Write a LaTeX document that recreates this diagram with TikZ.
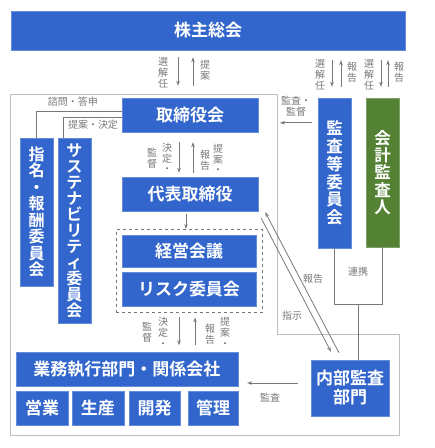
\documentclass[tikz,border=0pt]{standalone}
\usepackage{fontspec}
\setmainfont{Noto Sans CJK JP}[BoldFont={Noto Sans CJK JP Bold}]
\usetikzlibrary{arrows.meta,fit,calc}
\definecolor{boxblue}{RGB}{50,102,204}
\definecolor{boxgreen}{RGB}{84,130,53}
\definecolor{labgray}{RGB}{120,120,120}
\definecolor{linegray}{RGB}{120,120,120}
\definecolor{framegray}{RGB}{190,190,190}
\tikzset{
    blk/.style={fill=boxblue, draw=boxblue!75!white, line width=0.4pt, text=white,
        inner sep=0pt, align=center, font=\bfseries\fontsize{17}{18}\selectfont},
    vblk/.style={blk, minimum width=33pt},
    lab/.style={text=labgray, inner sep=0pt, align=center, font=\fontsize{10}{10.8}\selectfont},
    conn/.style={linegray, line width=0.8pt},
    arr/.style={conn, -{Stealth[length=5pt,width=3.5pt]}},
}

\begin{document}
\begin{tikzpicture}[x=1pt,y=-1pt]
                \useasboundingbox (0,0) rectangle (435,448);

                \node[blk, minimum width=394pt, minimum height=39pt] (kabunushi) at (208,30.5) {株主総会};
                \node[blk, minimum width=136pt, minimum height=34pt] (torishimari) at (190,115) {取締役会};
                \node[vblk, minimum height=148pt, font=\bfseries\fontsize{16}{16.5}\selectfont] (shimei) at (36.5,212) {指\\名\\・\\報\\酬\\委\\員\\会};
                \node[vblk, minimum height=185pt, font=\bfseries\fontsize{16}{16}\selectfont] (sustain) at (74.5,230.5) {サ\\ス\\テ\\ナ\\ビ\\リ\\テ\\ィ\\委\\員\\会};
                \node[blk, minimum width=136pt, minimum height=34pt] (daihyo) at (190,194) {代表取締役};
                \node[blk, minimum width=134pt, minimum height=32pt] (keiei) at (189,251.5) {経営会議};
                \node[blk, minimum width=134pt, minimum height=34pt] (risk) at (189,289) {リスク委員会};
                \node[draw=labgray, dashed, fit=(keiei)(risk), inner sep=6pt] (kaigi) {};
                \node[blk, minimum width=222pt, minimum height=34pt] (gyomu) at (127,369.5) {業務執行部門・関係会社};
                \node[blk, minimum width=52pt, minimum height=34pt] (eigyo) at (42,408) {営業};
                \node[blk, minimum width=52pt, minimum height=34pt] (seisan) at (98,408) {生産};
                \node[blk, minimum width=51pt, minimum height=34pt] (kaihatsu) at (154.5,408) {開発};
                \node[blk, minimum width=50pt, minimum height=34pt] (kanri) at (213,408) {管理};
                \node[blk, minimum width=78pt, minimum height=56pt, font=\bfseries\fontsize{17}{19}\selectfont] (naibu) at (350,388) {内部監査\\部門};
                \node[vblk, minimum height=150pt, font=\bfseries\fontsize{16.5}{17.8}\selectfont] (kansa) at (334.5,173) {監\\査\\等\\委\\員\\会};
                \node[vblk, fill=boxgreen, draw=boxgreen!75!white, minimum height=149pt, font=\bfseries\fontsize{16.5}{17.4}\selectfont] (kaikei) at (382.5,172.5) {会\\計\\監\\査\\人};

                % frame of the company
                \coordinate (frameNE) at (277,94);
                \draw[framegray, line width=0.8pt] (10,94) -- (frameNE) -- (277,334) -- (399,334) -- (399,435) -- (10,435) -- cycle;

                % shareholders
                \draw[arr, shorten <=7pt, shorten >=12pt] ([xshift=-12pt]torishimari.north |- kabunushi.south) -- ([xshift=-12pt]torishimari.north);
                \draw[arr, shorten <=12pt, shorten >=7pt] ([xshift=3pt]torishimari.north) -- ([xshift=3pt]torishimari.north |- kabunushi.south);
                \node[lab] at (163,73) {選\\解\\任};
                \node[lab] at (205,70) {提\\案};

                \draw[arr, shorten <=10pt, shorten >=11pt] ([xshift=-2.5pt]kansa.north |- kabunushi.south) -- ([xshift=-2.5pt]kansa.north);
                \draw[arr, shorten <=11pt, shorten >=10pt] ([xshift=6.5pt]kansa.north) -- ([xshift=6.5pt]kansa.north |- kabunushi.south);
                \node[lab] at (320,75) {選\\解\\任};
                \node[lab] at (352,72) {報\\告};

                \draw[arr, shorten <=10pt, shorten >=11pt] ([xshift=-1.5pt]kaikei.north |- kabunushi.south) -- ([xshift=-1.5pt]kaikei.north);
                \draw[arr, shorten <=11pt, shorten >=10pt] ([xshift=5.5pt]kaikei.north) -- ([xshift=5.5pt]kaikei.north |- kabunushi.south);
                \node[lab] at (369,75) {選\\解\\任};
                \node[lab] at (399,72) {報\\告};

                % board and committees
                \draw[conn] (shimei.north) |- ([yshift=4pt]torishimari.west);
                \draw[conn] ([xshift=-11pt]sustain.north) |- ([yshift=-2pt]torishimari.west);
                \node[lab] at (73,102) {諮問・答申};
                \node[lab] at (93,125) {提案・決定};

                \draw[arr, shorten <=10pt, shorten >=4pt] ([xshift=-11pt]torishimari.south) -- ([xshift=-11pt]daihyo.north);
                \draw[arr, shorten <=4pt, shorten >=10pt] ([xshift=3pt]daihyo.north) -- ([xshift=3pt]torishimari.south);
                \node[lab] at (152,158) {監\\督};
                \node[lab] at (167,158) {決\\定\\・};
                \node[lab] at (205,160) {報\\告};
                \node[lab] at (218,159) {提\\案\\・};

                \draw[arr, shorten <=3pt] ([xshift=-4pt]daihyo.south) -- ([xshift=-4pt]daihyo.south |- kaigi.north);

                \draw[arr, shorten <=5pt, shorten >=7pt] ([xshift=-10pt]kaigi.south) -- ([xshift=-10pt]kaigi.south |- gyomu.north);
                \draw[arr, shorten <=7pt, shorten >=5pt] ([xshift=6pt]kaigi.south |- gyomu.north) -- ([xshift=6pt]kaigi.south);
                \node[lab] at (147,332) {監\\督};
                \node[lab] at (163,332) {決\\定\\・};
                \node[lab] at (210,334) {報\\告};
                \node[lab] at (225,332) {提\\案\\・};

                % audit
                \draw[arr, shorten <=6pt, shorten >=3pt] ([yshift=-25pt]kansa.north west) -- ([yshift=-25pt]kansa.north west -| frameNE);
                \node[lab] at (296,106) {監査・\\監督};

                \draw[conn] (kansa.south) -- ++(0,56) coordinate (rkL) -| (kaikei.south);
                \coordinate (rkM) at ($(rkL)!0.5!(rkL -| kaikei.south)$);
                \draw[conn] (rkM) -- (rkM |- naibu.north);
                \node[lab] at (358,272) {連携};

                \draw[arr] ([xshift=3pt,yshift=-7pt]daihyo.south east) -- ([xshift=-19pt,yshift=8pt]naibu.north);
                \draw[arr] ([xshift=-11pt,yshift=7pt]naibu.north) -- ([xshift=7pt,yshift=-1pt]daihyo.south east);
                \node[lab] at (313,279) {報告};
                \node[lab] at (292,316) {指示};

                \coordinate (kansaL) at ([xshift=-13pt,yshift=5pt]naibu.west);
                \draw[arr] (kansaL) -- ([xshift=9pt]gyomu.east |- kansaL);
                \node[lab] at (270,398) {監査};
            \end{tikzpicture}
\end{document}
